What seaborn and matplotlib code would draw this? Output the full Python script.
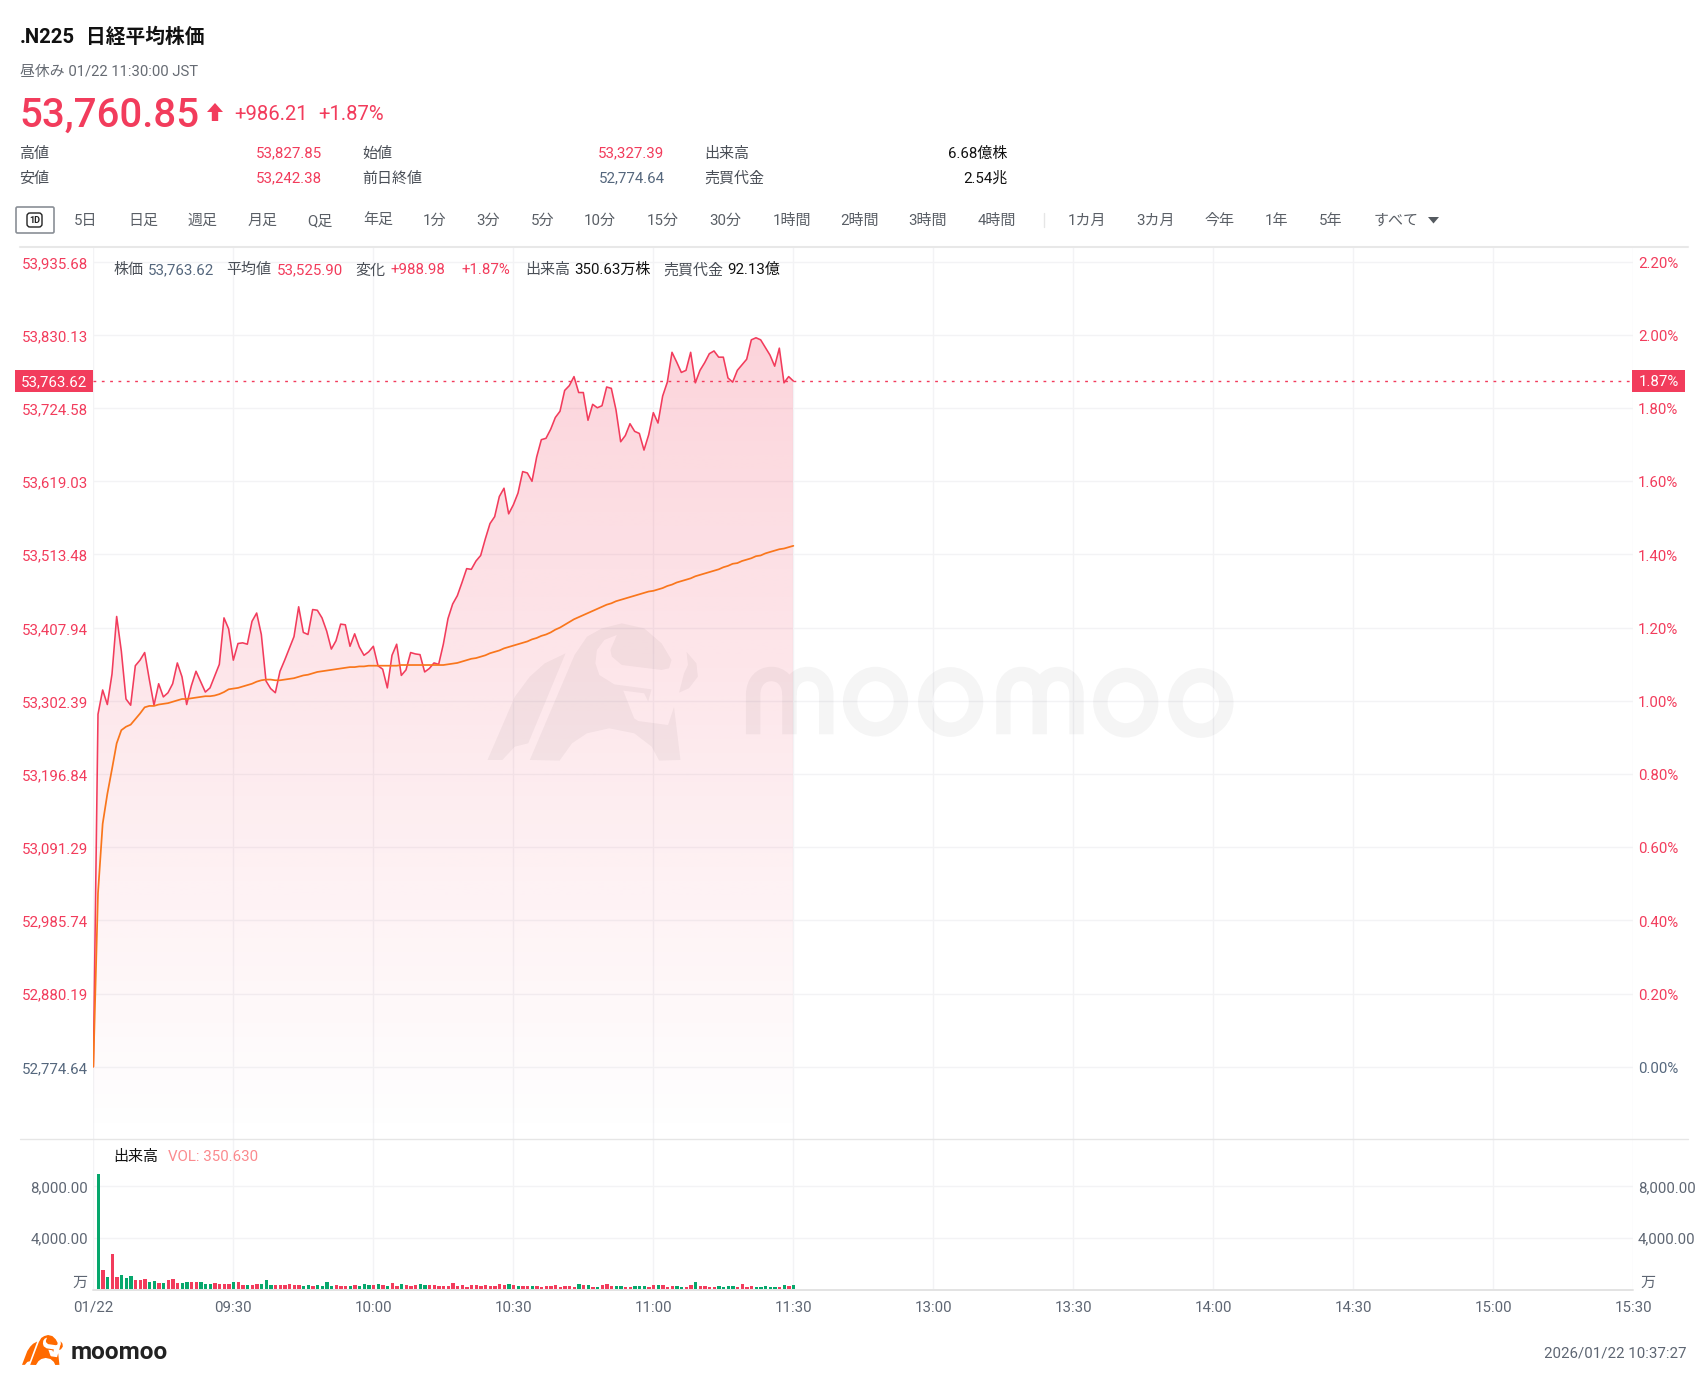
import numpy as np
import pandas as pd
import seaborn as sns
import matplotlib
matplotlib.use("Agg")
import matplotlib.pyplot as plt
from matplotlib.patches import Polygon, PathPatch, Ellipse, FancyBboxPatch, Rectangle
from matplotlib.path import Path
from matplotlib.ticker import FuncFormatter
from matplotlib.transforms import ScaledTranslation

price = [52774.64, 53283, 53318, 53297, 53341, 53424, 53374, 53305, 53296, 53353,
         53361, 53372, 53333, 53296, 53327, 53308, 53314, 53327, 53357, 53337,
         53297, 53324, 53345, 53330, 53315, 53321, 53338, 53355, 53422, 53406,
         53361, 53385, 53386, 53384, 53417, 53429, 53398, 53331, 53320, 53314,
         53345, 53361, 53378, 53395, 53438, 53401, 53398, 53434, 53433, 53422,
         53403, 53377, 53389, 53413, 53412, 53381, 53399, 53380, 53368, 53373,
         53381, 53353, 53348, 53321, 53368, 53384, 53339, 53347, 53372, 53370,
         53369, 53344, 53349, 53357, 53355, 53384, 53421, 53442, 53454, 53473,
         53493, 53492, 53504, 53512, 53536, 53558, 53568, 53597, 53609, 53572,
         53585, 53602, 53633, 53631, 53619, 53654, 53679, 53681, 53694, 53711,
         53720, 53750, 53757, 53770, 53747, 53747, 53707, 53730, 53725, 53728,
         53755, 53753, 53722, 53676, 53685, 53702, 53691, 53688, 53664, 53686,
         53718, 53703, 53742, 53762, 53805, 53791, 53776, 53779, 53805, 53761,
         53779, 53790, 53803, 53807, 53798, 53798, 53768, 53762, 53779, 53787,
         53795, 53823, 53826, 53823, 53812, 53801, 53785, 53811, 53761, 53770,
         53763.62]

average = [52774.64, 53025, 53125, 53168, 53204, 53241, 53260, 53265, 53268, 53276,
           53284, 53293, 53295, 53295, 53297, 53298, 53299, 53301, 53303, 53305,
           53305, 53306, 53307, 53308, 53309, 53309, 53310, 53312, 53315, 53319,
           53320, 53321, 53323, 53325, 53327, 53330, 53332, 53333, 53333, 53332,
           53332, 53333, 53334, 53335, 53337, 53339, 53340, 53342, 53344, 53345,
           53346, 53347, 53348, 53349, 53350, 53351, 53351, 53352, 53352, 53353,
           53353, 53353, 53353, 53353, 53353, 53353, 53354, 53354, 53354, 53354,
           53354, 53354, 53354, 53354, 53354, 53354, 53355, 53356, 53357, 53359,
           53361, 53363, 53364, 53366, 53368, 53371, 53373, 53375, 53378, 53380,
           53382, 53384, 53386, 53388, 53391, 53393, 53396, 53398, 53401, 53405,
           53408, 53412, 53416, 53420, 53423, 53426, 53429, 53432, 53435, 53438,
           53441, 53443, 53446, 53448, 53450, 53452, 53454, 53456, 53458, 53460,
           53461, 53463, 53465, 53468, 53470, 53473, 53475, 53477, 53479, 53482,
           53484, 53486, 53488, 53490, 53492, 53495, 53497, 53500, 53501, 53504,
           53506, 53508, 53511, 53512, 53515, 53517, 53519, 53521, 53522, 53524,
           53525.90]

volume = [8930, 1500, 980, 2710, 980, 1140, 906, 1010, 700, 700,
          780, 600, 670, 470, 490, 750, 780, 520, 520, 600,
          540, 570, 540, 410, 410, 490, 440, 390, 390, 540,
          540, 360, 340, 360, 390, 440, 700, 310, 340, 360,
          310, 390, 310, 360, 285, 310, 285, 360, 285, 540,
          285, 360, 285, 285, 285, 310, 230, 390, 340, 310,
          410, 310, 260, 470, 260, 390, 310, 260, 310, 390,
          310, 360, 360, 260, 260, 285, 470, 260, 360, 210,
          310, 310, 260, 340, 230, 230, 390, 340, 390, 310,
          285, 230, 230, 230, 230, 210, 230, 230, 340, 155,
          230, 230, 210, 390, 310, 310, 155, 155, 310, 390,
          260, 230, 230, 210, 155, 230, 230, 230, 155, 310,
          340, 340, 210, 230, 230, 180, 155, 310, 600, 230,
          230, 210, 210, 285, 210, 285, 230, 155, 440, 180,
          260, 180, 155, 230, 180, 210, 180, 360, 230, 360]

direction = list("GRGRRGGGRR" "RGGRGRRRGG" "RRGGGRRRRG" "RRGRRGGGRR"
                 "RRRRGGRGGG" "GRRRGRGGGR" "GRGRRGRRRG" "GRRRRRRRRR"
                 "RRRRRRRRGR" "GRRGRRRRRR" "RRRGRGRGRR" "RGGRRGGGRR"
                 "GRRRGGRRGR" "RRRGGGGRRR" "RGGGGGRGRG")

price_ticks = [52774.64, 52880.19, 52985.74, 53091.29, 53196.84, 53302.39,
               53407.94, 53513.48, 53619.03, 53724.58, 53830.13, 53935.68]
percent_ticks = [0.00, 0.20, 0.40, 0.60, 0.80, 1.00, 1.20, 1.40, 1.60, 1.80, 2.00, 2.20]
volume_ticks = [4000, 8000]
time_ticks = [0, 30, 60, 90, 120, 150, 180, 210, 240, 270, 300, 330]
time_labels = ["01/22", "09:30", "10:00", "10:30", "11:00", "11:30",
               "13:00", "13:30", "14:00", "14:30", "15:00", "15:30"]
prev_close = 52774.64
last_price = 53763.62
last_percent = "1.87%"

toolbar = [("5日", 69), ("日足", 119), ("週足", 173), ("月足", 228), ("Q足", 283), ("年足", 334),
           ("1分", 389), ("3分", 438), ("5分", 488), ("10分", 537), ("15分", 595), ("30分", 652),
           ("1時間", 710), ("2時間", 772), ("3時間", 835), ("4時間", 898),
           ("1カ月", 981), ("3カ月", 1044), ("今年", 1107), ("1年", 1162), ("5年", 1212), ("すべて", 1262)]

RED = "#f23c5c"
GREEN = "#06a76c"
ORANGE = "#f9761c"
GRAY = "#5e6673"
SLATE = "#55677d"
DARK = "#4a4f57"
GRID = "#f3f3f5"
FONTS = ["Roboto", "Noto Sans CJK JP"]
W, H = 1708, 1384
S = 1708 / 1568
FS = 10.8

sns.set_theme(style="white")
plt.rcParams["font.family"] = FONTS
plt.rcParams["axes.unicode_minus"] = False

fig = plt.figure(figsize=(W / 100, H / 100), dpi=100, facecolor="white")


def box(x0, y0, x1, y1):
    return [x0 / W, 1 - y1 / H, (x1 - x0) / W, (y1 - y0) / H]


def nudge_labels(axis, px):
    """Shift tick labels down by px pixels."""
    off = ScaledTranslation(0, -px / 100, fig.dpi_scale_trans)
    for tick in axis.get_major_ticks():
        for lab in (tick.label1, tick.label2):
            lab.set_transform(lab.get_transform() + off)


X0, X1 = 93.33, 1633.33
MAIN_TOP, MAIN_BOT, VOL_BOT = 247.0, 1138.5, 1289.3

# ---------- main panel
ax = fig.add_axes(box(X0, MAIN_TOP, X1, MAIN_BOT))
minutes = np.arange(len(price))
ymin, ymax = 52671.1, 53956.9
sns.lineplot(x=minutes, y=price, ax=ax, color=RED, linewidth=1.15, estimator=None, zorder=3)
sns.lineplot(x=minutes, y=average, ax=ax, color=ORANGE, linewidth=1.25, estimator=None, zorder=4)

poly = ax.fill_between(minutes, price, ymin, facecolor="none", edgecolor="none")
t = np.linspace(0, 1, 400)
ypx = MAIN_TOP + t * (MAIN_BOT - MAIN_TOP)
alpha = np.clip((MAIN_BOT - ypx) / (MAIN_BOT - 340) * 0.22, 0, 0.22)
rgba = np.zeros((400, 1, 4))
rgba[..., :3] = matplotlib.colors.to_rgb(RED)
rgba[:, 0, 3] = alpha
im = ax.imshow(rgba, extent=[0, 150, ymin, ymax], aspect="auto", origin="upper", zorder=2,
               interpolation="bilinear")
im.set_clip_path(poly.get_paths()[0], transform=ax.transData)

ax.axhline(last_price, color=RED, lw=1.0, dashes=(2, 4), zorder=5)
ax.set_xlim(0, 330)
ax.set_ylim(ymin, ymax)
ax.set_xticks(time_ticks)
ax.set_xticklabels([])
ax.set_yticks(price_ticks)
ax.yaxis.set_major_formatter(FuncFormatter(lambda v, _: f"{v:,.2f}"))
ax.tick_params(axis="y", length=0, pad=3.8, labelsize=FS, labelcolor=RED)
ax.tick_params(axis="x", length=0)
ax.get_yticklabels()[0].set_color(SLATE)
ax.grid(True, color=GRID, lw=1.0)
ax.set_axisbelow(True)
ax.set_xlabel("")
ax.set_ylabel("")
for s in ax.spines.values():
    s.set_visible(False)
nudge_labels(ax.yaxis, 0.7)

ax2 = ax.twinx()
ax2.set_ylim((ymin / prev_close - 1) * 100, (ymax / prev_close - 1) * 100)
ax2.set_yticks(percent_ticks)
ax2.yaxis.set_major_formatter(FuncFormatter(lambda v, _: f"{v:.2f}%"))
ax2.tick_params(axis="y", length=0, pad=3.3, labelsize=FS, labelcolor=RED)
ax2.get_yticklabels()[0].set_color(SLATE)
ax2.grid(False)
for s in ax2.spines.values():
    s.set_visible(False)
nudge_labels(ax2.yaxis, 0.7)

# ---------- volume panel
axv = fig.add_axes(box(X0, MAIN_BOT, X1, VOL_BOT))
vol_df = pd.DataFrame({"minute": np.arange(1, len(volume) + 1), "volume": volume, "direction": direction})
sns.barplot(data=vol_df, x="minute", y="volume", hue="direction", palette={"R": RED, "G": GREEN},
            native_scale=True, dodge=False, legend=False, width=0.68, saturation=1, ax=axv, zorder=3)
for bar in axv.patches:
    centre = bar.get_x() + bar.get_width() / 2
    bar.set_width(0.68)
    bar.set_x(centre - 0.34 + 0.08)
    bar.set_linewidth(0)
axv.set_xlim(0, 330)
vol_top = (VOL_BOT - MAIN_BOT) / 51.5 * 4000
axv.set_ylim(0, vol_top)
axv.set_xticks(time_ticks)
axv.set_xticklabels(time_labels)
axv.set_yticks(volume_ticks)
axv.yaxis.set_major_formatter(FuncFormatter(lambda v, _: f"{v:,.2f}"))
axv.tick_params(axis="y", length=0, pad=3.8, labelsize=FS, labelcolor=GRAY)
axv.tick_params(axis="x", length=0, pad=7.5, labelsize=FS, labelcolor=GRAY)
axv.grid(True, color=GRID, lw=1.0)
axv.set_axisbelow(True)
axv.set_xlabel("")
axv.set_ylabel("")
for s in axv.spines.values():
    s.set_visible(False)
nudge_labels(axv.xaxis, 1.0)

axv2 = axv.twinx()
axv2.set_ylim(0, vol_top)
axv2.set_yticks(volume_ticks)
axv2.yaxis.set_major_formatter(FuncFormatter(lambda v, _: f"{v:,.2f}"))
axv2.tick_params(axis="y", length=0, pad=3.3, labelsize=FS, labelcolor=GRAY)
axv2.grid(False)
for s in axv2.spines.values():
    s.set_visible(False)

# ---------- overlay in pixel coordinates: page furniture
ov = fig.add_axes([0, 0, 1, 1], zorder=10)
ov.set_xlim(0, W)
ov.set_ylim(H, 0)
ov.axis("off")
ov.patch.set_alpha(0)


def txt(x, y, s, color=DARK, size=FS, ha="left", weight="normal", **kw):
    return ov.text(x, y + 1.2, s, color=color, fontsize=size, ha=ha, va="center", fontweight=weight,
                   family=FONTS, **kw)


# header
txt(20, 36, ".N225", color="#111111", size=14.6, weight="bold")
txt(86, 36, "日経平均株価", color="#111111", size=14.2, weight="bold")
txt(20, 71, "昼休み 01/22 11:30:00 JST", color="#666b73", size=10.7)
txt(19.5, 114.5, "53,760.85", color=RED, size=29, weight="medium")
ov.add_patch(Polygon([(215, 103), (223, 112), (218.2, 112), (218.2, 121), (211.8, 121), (211.8, 112), (207, 112)],
                     closed=True, color=RED, lw=0))
txt(234, 113.5, "+986.21", color=RED, size=14.6)
txt(318, 113.5, "+1.87%", color=RED, size=14.6)

row1, row2 = 152.5, 177.5
txt(19, row1, "高値", color=DARK)
txt(19, row2, "安値", color=DARK)
txt(322.4, row1, "53,827.85", color=RED, ha="right")
txt(322.4, row2, "53,242.38", color=RED, ha="right")
txt(362.7, row1, "始値", color=DARK)
txt(362.7, row2, "前日終値", color=DARK)
txt(664.5, row1, "53,327.39", color=RED, ha="right")
txt(664.5, row2, "52,774.64", color=SLATE, ha="right")
txt(704.2, row1, "出来高", color=DARK)
txt(704.2, row2, "売買代金", color=DARK)
txt(1007.6, row1, "6.68億株", color="#111111", ha="right")
txt(1007.6, row2, "2.54兆", color="#111111", ha="right")

# toolbar
ov.add_patch(FancyBboxPatch((16, 207), 38, 26, boxstyle="round,pad=0,rounding_size=1.5",
                            fc="white", ec="#8a8f96", lw=1.2))
ov.add_patch(FancyBboxPatch((27, 213), 15, 14, boxstyle="round,pad=0,rounding_size=3",
                            fc="white", ec="#222222", lw=1.0))
txt(34.5, 219, "1D", color="#222222", size=6.5, ha="center", weight="bold")
for label, x in toolbar:
    txt(x * S - 1, 220, label, color="#5a5f66")
ov.plot([958 * S, 958 * S], [213, 227], color="#e6e6e6", lw=1)
ov.add_patch(Polygon([(1428, 217), (1439, 217), (1433.5, 223.5)], closed=True, color="#555a60", lw=0))

# dividers
ov.plot([20, 1688], [MAIN_TOP, MAIN_TOP], color="#e8e8e8", lw=1.5)
ov.plot([20, 1688], [MAIN_BOT, MAIN_BOT], color="#e6e6e6", lw=1.0)
ov.plot([X0, X1], [VOL_BOT + 1.0, VOL_BOT + 1.0], color="#e3e3e3", lw=1.4)

# legend row
legend_y = 269
for x, s, c in [(105, "株価", DARK), (137, "53,763.62", SLATE), (209, "平均値", DARK), (255, "53,525.90", RED),
                (327, "変化", DARK), (359, "+988.98", RED), (425, "+1.87%", RED), (483, "出来高", DARK),
                (528, "350.63万株", "#111111"), (610, "売買代金", DARK), (669, "92.13億", "#111111")]:
    txt(x * S - 1, legend_y, s, color=c)

# last-price tags
ov.add_patch(Rectangle((15, 370), 78, 22, fc=RED, ec="none"))
txt(54, 381, f"{last_price:,.2f}", color="white", ha="center")
ov.add_patch(Rectangle((1632, 369.5), 53, 22, fc=RED, ec="none"))
txt(1658.5, 381, last_percent, color="white", ha="center")

# volume panel captions
txt(105 * S - 1, 1156, "出来高", color="#111111")
txt(155 * S - 1, 1156, "VOL: 350.630", color="#fb8a8e")
txt(87, 1282, "万", color=GRAY, ha="right")
txt(1640, 1282, "万", color=GRAY)

# bull mark, drawn from outline polygons
WING = [(15, 480), (70, 290), (100, 230), (130, 190), (172, 160), (97, 430), (70, 440), (45, 480)]
BODY = [(100, 480), (190, 165), (215, 110), (245, 85), (285, 70), (330, 85), (365, 130), (385, 180), (380, 205),
        (365, 210), (285, 195), (265, 170), (262, 150), (275, 105), (250, 120), (235, 150), (232, 190), (240, 225),
        (270, 253), (345, 268), (338, 305), (330, 280), (288, 272), (310, 355), (318, 363), (378, 375), (390, 320),
        (403, 480), (360, 482), (345, 440), (310, 400), (260, 385), (215, 400), (185, 430), (160, 482)]
HORN = [(415, 155), (435, 190), (438, 230), (420, 265), (400, 278), (410, 220), (418, 195)]


def bull(fx, fy, color, alpha=1.0):
    for shape in (WING, BODY, HORN):
        ov.add_patch(Polygon([(fx(a), fy(b)) for a, b in shape], closed=True, fc=color, ec="none", alpha=alpha))


def zx(v):
    return 480 + v / 2.01


def zy(v):
    return 600 + v / 3


bull(zx, zy, "black", 0.04)
bull(lambda a: 22 + (a - 15) * 0.0965, lambda b: 1335 + (b - 70) * 0.0728, "#ff6a00")


# watermark word, stroked
def arches(x0):
    xs = [x0, x0 + 73, x0 + 147]
    verts, codes = [(zx(xs[0]), zy(403))], [Path.MOVETO]
    verts.append((zx(xs[0]), zy(285))); codes.append(Path.LINETO)
    for a, b in ((xs[0], xs[1]), (xs[1], xs[2])):
        verts += [(zx(a), zy(245)), (zx(a + 16), zy(222)), (zx((a + b) / 2), zy(222)),
                  (zx(b - 16), zy(222)), (zx(b), zy(245)), (zx(b), zy(285)), (zx(b), zy(403))]
        codes += [Path.CURVE4] * 6 + [Path.LINETO]
        verts.append((zx(b), zy(285))); codes.append(Path.MOVETO)
    return Path(verts, codes)


for x0 in (549, 1052):
    ov.add_patch(PathPatch(arches(x0), fc="none", ec="black", alpha=0.04, lw=10.4, capstyle="butt"))
for cx, cy in ((795, 305), (946, 306), (1298, 308), (1449, 309)):
    ov.add_patch(Ellipse((zx(cx), zy(cy)), 102 / 2.01, 166 / 3, fc="none", ec="black", alpha=0.04, lw=10.4))

# footer
txt(71, 1351, "moomoo", color="#222222", size=17.6, weight="bold")
txt(1687, 1352, "2026/01/22 10:37:27", color=GRAY, ha="right")

fig.savefig("out.png", dpi=100, facecolor="white")
